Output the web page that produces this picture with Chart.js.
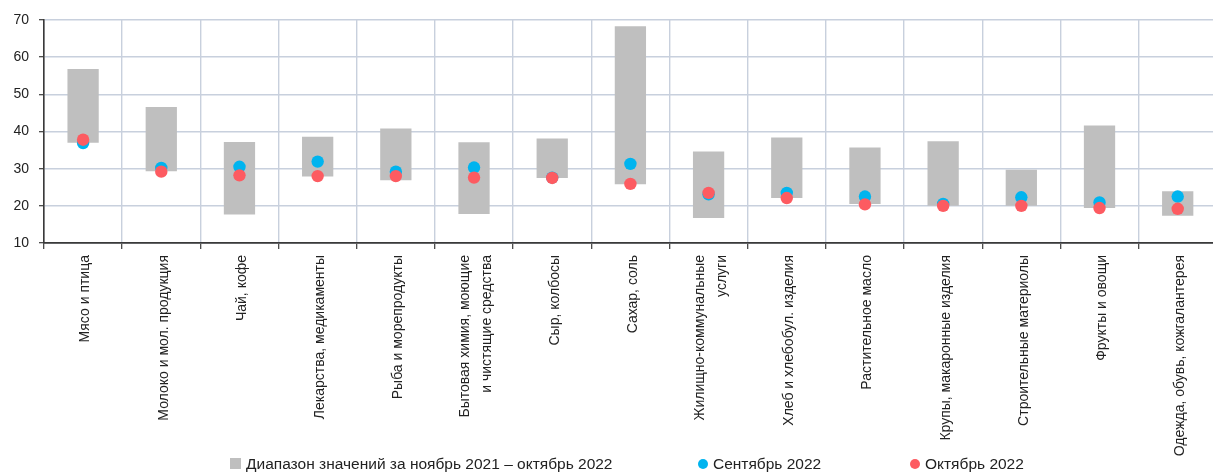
<!DOCTYPE html>
<html>
<head>
<meta charset="utf-8">
<script src="https://cdn.jsdelivr.net/npm/chart.js@4.4.1/dist/chart.umd.min.js"></script>
<style>
  html, body { margin: 0; padding: 0; overflow: hidden; background: #ffffff; }
  #wrap { position: relative; width: 1223px; height: 472px; }
  #legend { position: absolute; left: 0; top: 454px; width: 1223px; height: 20px;
            font-family: "Liberation Sans", Arial, sans-serif; font-size: 15.5px; color: #222; }
  .li { position: absolute; top: 0; white-space: nowrap; line-height: 20px; }
  .sw { display: inline-block; vertical-align: middle; margin-right: 5px; position: relative; top: -1px; }
</style>
</head>
<body>
<div id="wrap"><canvas id="c"></canvas><div id="legend"></div></div>
<script>
// ---- data ----
const categories = [
  'Мясо и птица',
  'Молоко и мол. продукция',
  'Чай, кофе',
  'Лекарства, медикаменты',
  'Рыба и морепродукты',
  ['Бытовая химия, моющие', 'и чистящие средства'],
  'Сыр, колбосы',
  'Сахар, соль',
  ['Жилищно-коммунальные', 'услуги'],
  'Хлеб и хлебобул. изделия',
  'Растительное масло',
  'Крупы, макаронные изделия',
  'Строительные материолы',
  'Фрукты и овощи',
  'Одежда, обувь, кожгалантерея'
];
const rangeLow  = [37.0, 29.3, 17.7, 27.9, 26.9, 17.8, 27.5, 25.8, 16.7, 22.1, 20.5, 20.0, 20.0, 19.4, 17.3];
const rangeHigh = [56.8, 46.6, 37.2, 38.6, 40.8, 37.1, 38.1, 68.3, 34.6, 38.4, 35.7, 37.4, 29.7, 41.6, 23.9];
const sep2022   = [36.9, 30.2, 30.5, 31.9, 29.2, 30.3, 27.6, 31.3, 23.1, 23.5, 22.5, 20.5, 22.3, 20.9, 22.5];
const oct2022   = [37.8, 29.2, 28.2, 28.0, 28.0, 27.6, 27.5, 25.9, 23.5, 22.1, 20.4, 20.0, 20.0, 19.4, 19.2];
const yTicks    = [10, 20, 30, 40, 50, 60, 70];
const seriesNames = ['Диапазон значений за ноябрь 2021 – октябрь 2022', 'Сентябрь 2022', 'Октябрь 2022'];

// ---- styles ----
const COL_BAR = '#bfbfbf';
const COL_SEP = '#00b4ef';
const COL_OCT = '#fd5b61';
const GRID = '#c8d0dd';
const AXIS = '#3a3a3a';
const TXT = '#222222';

Chart.defaults.font.family = '"Liberation Sans", Arial, sans-serif';
Chart.defaults.color = TXT;

// HTML legend
const legendSpec = [
  { left: 230, color: COL_BAR, shape: 'rect' },
  { left: 698, color: COL_SEP, shape: 'circle' },
  { left: 910, color: COL_OCT, shape: 'circle' }
];
const legendEl = document.getElementById('legend');
seriesNames.forEach((name, i) => {
  const s = legendSpec[i];
  const item = document.createElement('div');
  item.className = 'li';
  item.style.left = s.left + 'px';
  const sw = document.createElement('span');
  sw.className = 'sw';
  sw.style.width = (s.shape === 'rect' ? 11 : 10) + 'px';
  sw.style.height = (s.shape === 'rect' ? 11 : 10) + 'px';
  sw.style.background = s.color;
  if (s.shape === 'circle') sw.style.borderRadius = '50%';
  item.appendChild(sw);
  item.appendChild(document.createTextNode(name));
  legendEl.appendChild(item);
});

// centre multi-line category labels on their tick
const centerMultiline = {
  id: 'centerMultiline',
  beforeDraw(chart) {
    const sc = chart.scales.x;
    const items = sc.getLabelItems(chart.chartArea);
    items.forEach(it => {
      if (it._shifted) return;
      const n = Array.isArray(it.label) ? it.label.length : 1;
      if (n > 1) {
        it.options.translation = [it.options.translation[0] - (n - 1) * it.font.lineHeight / 2, it.options.translation[1]];
      }
      it._shifted = true;
    });
  }
};

new Chart(document.getElementById('c'), {
  type: 'bar',
  data: {
    labels: categories,
    datasets: [
      {
        type: 'bar',
        label: seriesNames[0],
        data: rangeLow.map((lo, i) => [lo, rangeHigh[i]]),
        backgroundColor: COL_BAR,
        borderWidth: 0,
        barPercentage: 0.4,
        categoryPercentage: 1.0,
        order: 3
      },
      {
        type: 'line',
        label: seriesNames[1],
        data: sep2022,
        showLine: false,
        pointRadius: 6.2,
        pointHoverRadius: 6.2,
        pointBorderWidth: 0,
        pointBackgroundColor: COL_SEP,
        borderColor: COL_SEP,
        backgroundColor: COL_SEP,
        order: 2
      },
      {
        type: 'line',
        label: seriesNames[2],
        data: oct2022,
        showLine: false,
        pointRadius: 6.2,
        pointHoverRadius: 6.2,
        pointBorderWidth: 0,
        pointBackgroundColor: COL_OCT,
        borderColor: COL_OCT,
        backgroundColor: COL_OCT,
        order: 1
      }
    ]
  },
  options: {
    responsive: true,
    maintainAspectRatio: false,
    animation: false,
    layout: { padding: { left: 0, right: 0, top: 20, bottom: 0 } },
    plugins: {
      tooltip: { enabled: false },
      legend: { display: false }
    },
    scales: {
      x: {
        offset: true,
        grid: {
          offset: true,
          color: GRID,
          lineWidth: 1.4,
          tickColor: AXIS,
          tickLength: 6,
          tickWidth: 1.2
        },
        border: { color: AXIS, width: 1.8 },
        ticks: {
          autoSkip: false,
          minRotation: 90,
          maxRotation: 90,
          padding: 6,
          labelOffset: 2.5,
          color: TXT,
          font: { size: 14, lineHeight: 1.57 }
        },
        afterFit(scale) { scale.height = 229; }
      },
      y: {
        min: 10,
        max: 70,
        afterBuildTicks(scale) { scale.ticks = yTicks.map(v => ({ value: v })); },
        grid: {
          color: GRID,
          lineWidth: 1.4,
          tickColor: AXIS,
          tickLength: 5,
          tickWidth: 1.2
        },
        border: { color: AXIS, width: 1.6 },
        ticks: {
          padding: 10,
          color: TXT,
          font: { size: 14 }
        },
        afterFit(scale) { scale.width = 44; }
      }
    }
  },
  plugins: [centerMultiline]
});
</script>
</body>
</html>
